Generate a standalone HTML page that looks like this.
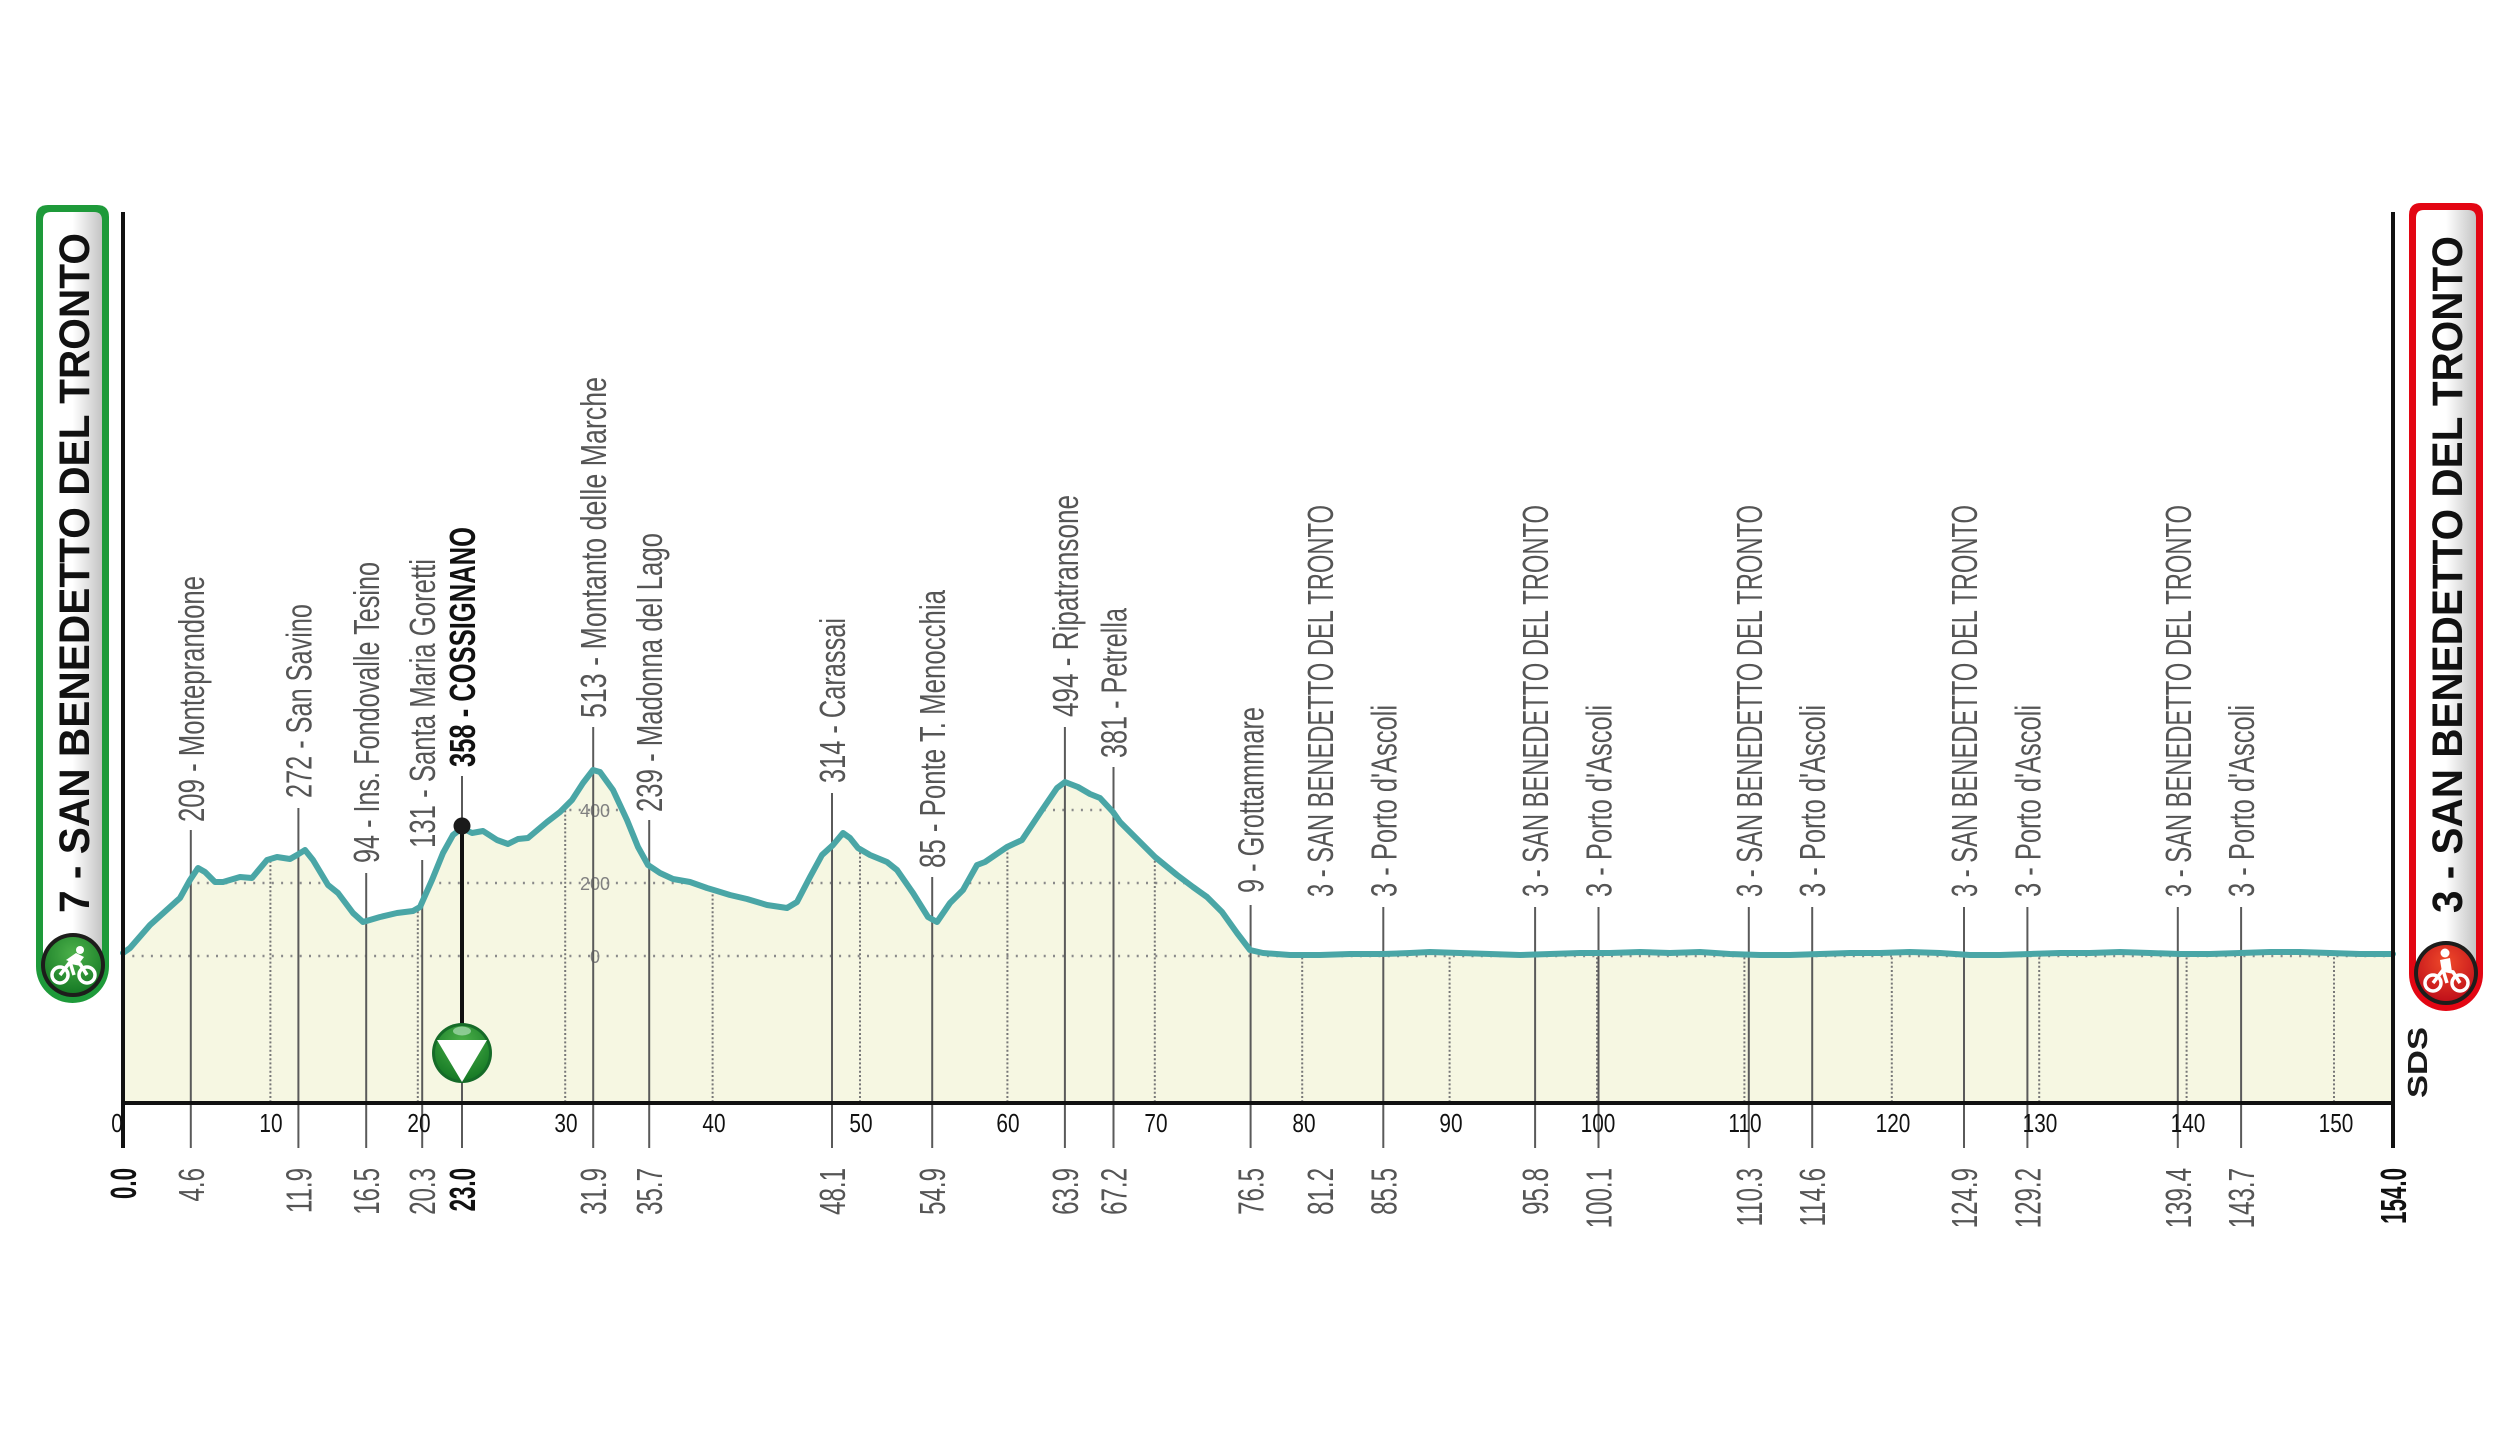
<!DOCTYPE html>
<html><head><meta charset="utf-8"><style>
html,body{margin:0;padding:0;background:#fff;}
svg{display:block;}
text{font-family:"Liberation Sans",sans-serif;}
</style></head><body>
<svg width="2513" height="1436" viewBox="0 0 2513 1436" xmlns="http://www.w3.org/2000/svg">
<defs>
<linearGradient id="boxg" x1="0" x2="1" y1="0" y2="0"><stop offset="0" stop-color="#fff"/><stop offset="0.5" stop-color="#fff"/><stop offset="1" stop-color="#c4c4c4"/></linearGradient>
<radialGradient id="gg" cx="0.5" cy="0.3" r="0.7"><stop offset="0" stop-color="#4cb04a"/><stop offset="1" stop-color="#167a25"/></radialGradient>
<radialGradient id="rg" cx="0.5" cy="0.3" r="0.7"><stop offset="0" stop-color="#f04a2a"/><stop offset="1" stop-color="#c0101a"/></radialGradient>
<clipPath id="areaClip"><path id="areaP" d="M123,1103 L123,953 L130,948 L150,925 L180,898 L190,880 L198,868 L205,872 L215,882 L223,882 L240,877 L252,878 L267,860 L277,857 L290,859 L297,855 L305,850 L313,860 L328,885 L338,893 L353,913 L363,922 L380,917 L397,913 L413,911 L420,907 L432,880 L443,853 L453,835 L462,828 L472,833 L483,831 L497,840 L508,844 L518,839 L528,838 L547,822 L560,812 L572,800 L583,783 L593,770 L600,772 L613,790 L627,820 L638,847 L648,865 L660,873 L673,879 L690,882 L707,888 L717,891 L730,895 L747,899 L767,905 L787,908 L797,902 L810,877 L822,855 L833,845 L843,833 L850,838 L858,848 L870,855 L887,862 L897,870 L913,893 L928,917 L937,922 L950,903 L963,890 L977,865 L985,862 L1007,847 L1022,840 L1040,813 L1057,788 L1065,782 L1078,787 L1090,794 L1100,798 L1113,812 L1120,822 L1133,835 L1140,842 L1155,857 L1177,875 L1193,887 L1207,897 L1222,912 L1237,933 L1250,950 L1263,953 L1290,955 L1320,955 L1350,954 L1383,954 L1410,953 L1430,952 L1460,953 L1490,954 L1520,955 L1550,954 L1580,953 L1610,953 L1640,952 L1670,953 L1700,952 L1730,954 L1760,955 L1790,955 L1820,954 L1850,953 L1880,953 L1910,952 L1940,953 L1970,955 L2000,955 L2030,954 L2060,953 L2090,953 L2120,952 L2150,953 L2180,954 L2210,954 L2240,953 L2270,952 L2300,952 L2330,953 L2360,954 L2393,954 L2393,1103 Z"/></clipPath>
</defs>

<!-- area fill -->
<use href="#areaP" fill="#f6f7e2"/>

<!-- dotted grid clipped to area -->
<g clip-path="url(#areaClip)">
<g stroke="#8a8a8a" stroke-width="2.5" stroke-dasharray="2 7.3" fill="none">
<line x1="123" y1="956" x2="2393" y2="956"/>
<line x1="123" y1="883" x2="2393" y2="883"/>
<line x1="123" y1="810" x2="2393" y2="810"/>
</g>
<g stroke="#777" stroke-width="2" stroke-dasharray="2 2.2" fill="none">
<line x1="270.4" y1="760" x2="270.4" y2="1103"/>
<line x1="417.8" y1="760" x2="417.8" y2="1103"/>
<line x1="565.2" y1="760" x2="565.2" y2="1103"/>
<line x1="712.6" y1="760" x2="712.6" y2="1103"/>
<line x1="860" y1="760" x2="860" y2="1103"/>
<line x1="1007.4" y1="760" x2="1007.4" y2="1103"/>
<line x1="1154.8" y1="760" x2="1154.8" y2="1103"/>
<line x1="1302.2" y1="760" x2="1302.2" y2="1103"/>
<line x1="1449.6" y1="760" x2="1449.6" y2="1103"/>
<line x1="1597" y1="760" x2="1597" y2="1103"/>
<line x1="1744.4" y1="760" x2="1744.4" y2="1103"/>
<line x1="1891.8" y1="760" x2="1891.8" y2="1103"/>
<line x1="2039.2" y1="760" x2="2039.2" y2="1103"/>
<line x1="2186.6" y1="760" x2="2186.6" y2="1103"/>
<line x1="2334" y1="760" x2="2334" y2="1103"/>
</g>
</g>

<!-- elevation scale labels -->
<g font-size="18" fill="#808080" text-anchor="middle">
<text x="595" y="817">400</text>
<text x="595" y="890">200</text>
<text x="595" y="963">0</text>
</g>

<!-- waypoint lines -->
<g stroke="#5a5a5a" stroke-width="2">
<line x1="190.8" y1="830" x2="190.8" y2="1148"/>
<line x1="298.4" y1="808" x2="298.4" y2="1148"/>
<line x1="366.2" y1="873" x2="366.2" y2="1148"/>
<line x1="422.2" y1="860" x2="422.2" y2="1148"/>
<line x1="462" y1="776" x2="462" y2="1148"/>
<line x1="593.2" y1="727" x2="593.2" y2="1148"/>
<line x1="649.2" y1="820" x2="649.2" y2="1148"/>
<line x1="832" y1="793" x2="832" y2="1148"/>
<line x1="932.2" y1="877" x2="932.2" y2="1148"/>
<line x1="1064.9" y1="727" x2="1064.9" y2="1148"/>
<line x1="1113.5" y1="767" x2="1113.5" y2="1148"/>
<line x1="1250.6" y1="905" x2="1250.6" y2="1148"/>
<line x1="1383.3" y1="907" x2="1383.3" y2="1148"/>
<line x1="1535.1" y1="907" x2="1535.1" y2="1148"/>
<line x1="1598.5" y1="907" x2="1598.5" y2="1148"/>
<line x1="1748.8" y1="907" x2="1748.8" y2="1148"/>
<line x1="1812.2" y1="907" x2="1812.2" y2="1148"/>
<line x1="1964" y1="907" x2="1964" y2="1148"/>
<line x1="2027.4" y1="907" x2="2027.4" y2="1148"/>
<line x1="2177.8" y1="907" x2="2177.8" y2="1148"/>
<line x1="2241.1" y1="907" x2="2241.1" y2="1148"/>
</g>

<!-- profile line -->
<path d="M123,953 L130,948 L150,925 L180,898 L190,880 L198,868 L205,872 L215,882 L223,882 L240,877 L252,878 L267,860 L277,857 L290,859 L297,855 L305,850 L313,860 L328,885 L338,893 L353,913 L363,922 L380,917 L397,913 L413,911 L420,907 L432,880 L443,853 L453,835 L462,828 L472,833 L483,831 L497,840 L508,844 L518,839 L528,838 L547,822 L560,812 L572,800 L583,783 L593,770 L600,772 L613,790 L627,820 L638,847 L648,865 L660,873 L673,879 L690,882 L707,888 L717,891 L730,895 L747,899 L767,905 L787,908 L797,902 L810,877 L822,855 L833,845 L843,833 L850,838 L858,848 L870,855 L887,862 L897,870 L913,893 L928,917 L937,922 L950,903 L963,890 L977,865 L985,862 L1007,847 L1022,840 L1040,813 L1057,788 L1065,782 L1078,787 L1090,794 L1100,798 L1113,812 L1120,822 L1133,835 L1140,842 L1155,857 L1177,875 L1193,887 L1207,897 L1222,912 L1237,933 L1250,950 L1263,953 L1290,955 L1320,955 L1350,954 L1383,954 L1410,953 L1430,952 L1460,953 L1490,954 L1520,955 L1550,954 L1580,953 L1610,953 L1640,952 L1670,953 L1700,952 L1730,954 L1760,955 L1790,955 L1820,954 L1850,953 L1880,953 L1910,952 L1940,953 L1970,955 L2000,955 L2030,954 L2060,953 L2090,953 L2120,952 L2150,953 L2180,954 L2210,954 L2240,953 L2270,952 L2300,952 L2330,953 L2360,954 L2393,954" fill="none" stroke="#4aa6a6" stroke-width="6" stroke-linejoin="round" stroke-linecap="round"/>

<!-- axes -->
<g stroke="#111" stroke-width="4">
<line x1="123" y1="212" x2="123" y2="1148"/>
<line x1="2393" y1="212" x2="2393" y2="1148"/>
<line x1="121" y1="1103" x2="2395" y2="1103"/>
</g>

<!-- Cossignano marker -->
<line x1="462" y1="826" x2="462" y2="1025" stroke="#111" stroke-width="4"/>
<circle cx="462" cy="826" r="8.5" fill="#1a1a1a"/>
<circle cx="462" cy="1053" r="30" fill="#156b28"/>
<circle cx="462" cy="1053" r="27" fill="url(#gg)"/>
<ellipse cx="462" cy="1031" rx="9" ry="4.5" fill="#9fd6a8" opacity="0.8"/>
<polygon points="437,1040 487,1040 462,1082" fill="#fff"/>

<!-- km tick labels -->
<g font-size="26" fill="#111" text-anchor="middle">
<text transform="translate(117,1132) scale(0.8,1)">0</text>
<text transform="translate(271,1132) scale(0.8,1)">10</text>
<text transform="translate(419,1132) scale(0.8,1)">20</text>
<text transform="translate(566,1132) scale(0.8,1)">30</text>
<text transform="translate(714,1132) scale(0.8,1)">40</text>
<text transform="translate(861,1132) scale(0.8,1)">50</text>
<text transform="translate(1008,1132) scale(0.8,1)">60</text>
<text transform="translate(1156,1132) scale(0.8,1)">70</text>
<text transform="translate(1304,1132) scale(0.8,1)">80</text>
<text transform="translate(1451,1132) scale(0.8,1)">90</text>
<text transform="translate(1598,1132) scale(0.8,1)">100</text>
<text transform="translate(1745,1132) scale(0.8,1)">110</text>
<text transform="translate(1893,1132) scale(0.8,1)">120</text>
<text transform="translate(2040,1132) scale(0.8,1)">130</text>
<text transform="translate(2188,1132) scale(0.8,1)">140</text>
<text transform="translate(2336,1132) scale(0.8,1)">150</text>
</g>

<!-- bottom km labels -->
<g font-size="36" fill="#555" text-anchor="end">
<text transform="translate(203.8,1168) rotate(-90) scale(0.67,1)">4.6</text>
<text transform="translate(311.4,1168) rotate(-90) scale(0.67,1)">11.9</text>
<text transform="translate(379.2,1168) rotate(-90) scale(0.67,1)">16.5</text>
<text transform="translate(435.2,1168) rotate(-90) scale(0.67,1)">20.3</text>
<text transform="translate(606.2,1168) rotate(-90) scale(0.67,1)">31.9</text>
<text transform="translate(662.2,1168) rotate(-90) scale(0.67,1)">35.7</text>
<text transform="translate(845,1168) rotate(-90) scale(0.67,1)">48.1</text>
<text transform="translate(945.2,1168) rotate(-90) scale(0.67,1)">54.9</text>
<text transform="translate(1077.9,1168) rotate(-90) scale(0.67,1)">63.9</text>
<text transform="translate(1126.5,1168) rotate(-90) scale(0.67,1)">67.2</text>
<text transform="translate(1263.6,1168) rotate(-90) scale(0.67,1)">76.5</text>
<text transform="translate(1332.9,1168) rotate(-90) scale(0.67,1)">81.2</text>
<text transform="translate(1396.3,1168) rotate(-90) scale(0.67,1)">85.5</text>
<text transform="translate(1548.1,1168) rotate(-90) scale(0.67,1)">95.8</text>
<text transform="translate(1611.5,1168) rotate(-90) scale(0.67,1)">100.1</text>
<text transform="translate(1761.8,1168) rotate(-90) scale(0.67,1)">110.3</text>
<text transform="translate(1825.2,1168) rotate(-90) scale(0.67,1)">114.6</text>
<text transform="translate(1977,1168) rotate(-90) scale(0.67,1)">124.9</text>
<text transform="translate(2040.4,1168) rotate(-90) scale(0.67,1)">129.2</text>
<text transform="translate(2190.8,1168) rotate(-90) scale(0.67,1)">139.4</text>
<text transform="translate(2254.1,1168) rotate(-90) scale(0.67,1)">143.7</text>
</g>
<g font-size="36" fill="#111" font-weight="bold" text-anchor="end">
<text transform="translate(136,1168) rotate(-90) scale(0.62,1)">0.0</text>
<text transform="translate(475,1168) rotate(-90) scale(0.62,1)">23.0</text>
<text transform="translate(2406,1168) rotate(-90) scale(0.62,1)">154.0</text>
</g>

<!-- waypoint labels -->
<g font-size="36" fill="#555" lengthAdjust="spacingAndGlyphs">
<text transform="translate(203.8,822) rotate(-90)" textLength="246" lengthAdjust="spacingAndGlyphs">209 - Monteprandone</text>
<text transform="translate(311.4,798) rotate(-90)" textLength="194" lengthAdjust="spacingAndGlyphs">272 - San Savino</text>
<text transform="translate(379.2,863) rotate(-90)" textLength="301" lengthAdjust="spacingAndGlyphs">94 - Ins. Fondovalle Tesino</text>
<text transform="translate(435.2,848) rotate(-90)" textLength="289" lengthAdjust="spacingAndGlyphs">131 - Santa Maria Goretti</text>
<text transform="translate(606.2,718) rotate(-90)" textLength="341" lengthAdjust="spacingAndGlyphs">513 - Montanto delle Marche</text>
<text transform="translate(662.2,812) rotate(-90)" textLength="279" lengthAdjust="spacingAndGlyphs">239 - Madonna del Lago</text>
<text transform="translate(845,783) rotate(-90)" textLength="165" lengthAdjust="spacingAndGlyphs">314 - Carassai</text>
<text transform="translate(945.2,868) rotate(-90)" textLength="278" lengthAdjust="spacingAndGlyphs">85 - Ponte T. Menocchia</text>
<text transform="translate(1077.9,717) rotate(-90)" textLength="222" lengthAdjust="spacingAndGlyphs">494 - Ripatransone</text>
<text transform="translate(1126.5,758) rotate(-90)" textLength="150" lengthAdjust="spacingAndGlyphs">381 - Petrella</text>
<text transform="translate(1263.6,893) rotate(-90)" textLength="186" lengthAdjust="spacingAndGlyphs">9 - Grottammare</text>
<text transform="translate(1332.9,897) rotate(-90)" textLength="392" lengthAdjust="spacingAndGlyphs">3 - SAN BENEDETTO DEL TRONTO</text>
<text transform="translate(1396.3,897) rotate(-90)" textLength="192" lengthAdjust="spacingAndGlyphs">3 - Porto d'Ascoli</text>
<text transform="translate(1548.1,897) rotate(-90)" textLength="392" lengthAdjust="spacingAndGlyphs">3 - SAN BENEDETTO DEL TRONTO</text>
<text transform="translate(1611.5,897) rotate(-90)" textLength="192" lengthAdjust="spacingAndGlyphs">3 - Porto d'Ascoli</text>
<text transform="translate(1761.8,897) rotate(-90)" textLength="392" lengthAdjust="spacingAndGlyphs">3 - SAN BENEDETTO DEL TRONTO</text>
<text transform="translate(1825.2,897) rotate(-90)" textLength="192" lengthAdjust="spacingAndGlyphs">3 - Porto d'Ascoli</text>
<text transform="translate(1977,897) rotate(-90)" textLength="392" lengthAdjust="spacingAndGlyphs">3 - SAN BENEDETTO DEL TRONTO</text>
<text transform="translate(2040.4,897) rotate(-90)" textLength="192" lengthAdjust="spacingAndGlyphs">3 - Porto d'Ascoli</text>
<text transform="translate(2190.8,897) rotate(-90)" textLength="392" lengthAdjust="spacingAndGlyphs">3 - SAN BENEDETTO DEL TRONTO</text>
<text transform="translate(2254.1,897) rotate(-90)" textLength="192" lengthAdjust="spacingAndGlyphs">3 - Porto d'Ascoli</text>
</g>
<text transform="translate(475,767) rotate(-90)" font-size="36" font-weight="bold" fill="#111" textLength="240" lengthAdjust="spacingAndGlyphs">358 - COSSIGNANO</text>

<!-- left start box -->
<path d="M36,217 Q36,205 48,205 L97,205 Q109,205 109,217 L109,966.5 A36.5,36.5 0 0 1 36,966.5 Z" fill="#1e9a3a"/>
<path d="M43,220 Q43,212 51,212 L94,212 Q102,212 102,220 L102,966.5 A29.5,29.5 0 0 1 43,966.5 Z" fill="url(#boxg)"/>
<text transform="translate(89,913) rotate(-90)" font-size="43" font-weight="bold" fill="#111" textLength="680" lengthAdjust="spacingAndGlyphs">7 - SAN BENEDETTO DEL TRONTO</text>
<circle cx="73" cy="965" r="32" fill="#1d1d1b"/>
<circle cx="73" cy="965" r="28" fill="url(#gg)"/>
<g fill="none" stroke="#fff" stroke-width="3.5">
<circle cx="60" cy="975" r="8"/><circle cx="87" cy="975" r="8"/>
<path d="M60,975 L70,962 L80,964 L87,975 M70,962 L74,975"/>
</g>
<circle cx="80" cy="950" r="4" fill="#fff"/>
<path d="M66,960 L76,953 L84,957 L78,965 Z" fill="#fff"/>

<!-- right finish box -->
<path d="M2409,215 Q2409,203 2421,203 L2471,203 Q2483,203 2483,215 L2483,974 A37,37 0 0 1 2409,974 Z" fill="#e30613"/>
<path d="M2416,218 Q2416,210 2424,210 L2468,210 Q2476,210 2476,218 L2476,974 A30,30 0 0 1 2416,974 Z" fill="url(#boxg)"/>
<text transform="translate(2462,913) rotate(-90)" font-size="43" font-weight="bold" fill="#111" textLength="677" lengthAdjust="spacingAndGlyphs">3 - SAN BENEDETTO DEL TRONTO</text>
<circle cx="2446" cy="973" r="32" fill="#1d1d1b"/>
<circle cx="2446" cy="973" r="28" fill="url(#rg)"/>
<g fill="none" stroke="#fff" stroke-width="3.5">
<circle cx="2433" cy="983" r="8"/><circle cx="2460" cy="983" r="8"/>
<path d="M2433,983 L2443,970 L2453,972 L2460,983 M2443,970 L2447,983"/>
</g>
<circle cx="2445" cy="953" r="4.5" fill="#fff"/>
<path d="M2440,960 L2450,958 L2452,972 L2442,972 Z" fill="#fff"/>

<!-- SDS logo -->
<text transform="translate(2427,1098) rotate(-90)" font-size="28" font-weight="bold" fill="#1a1a1a" textLength="71" lengthAdjust="spacingAndGlyphs">SDS</text>
</svg>
</body></html>
